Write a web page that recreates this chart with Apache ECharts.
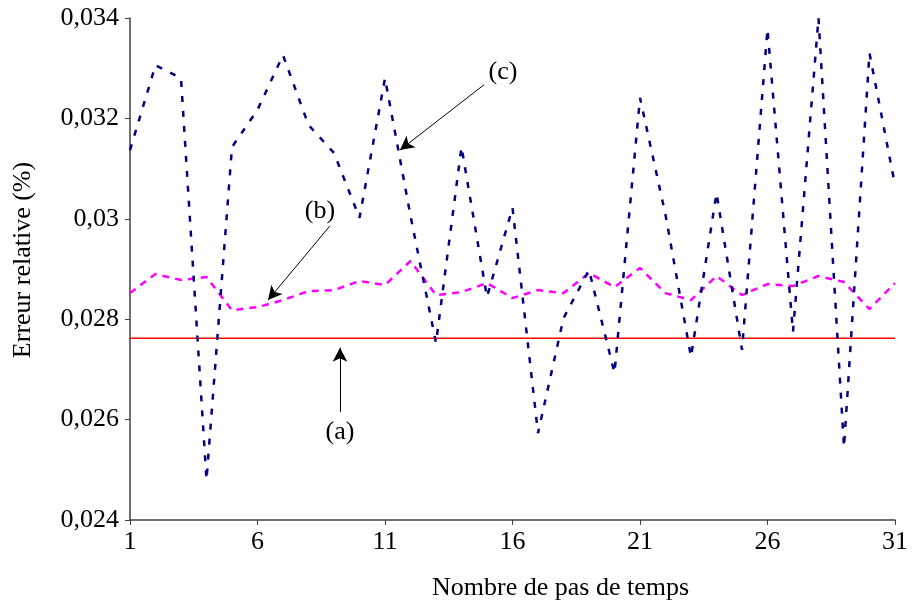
<!DOCTYPE html>
<html>
<head>
<meta charset="utf-8">
<script src="https://cdn.jsdelivr.net/npm/echarts@6/dist/echarts.min.js"></script>
<style>
  html, body { margin: 0; padding: 0; background: #fff; }
  #chart { width: 913px; height: 603px; }
</style>
</head>
<body>
<div id="chart"></div>
<script>
// pas de temps 1..31
const steps = ["1","2","3","4","5","6","7","8","9","10","11","12","13","14","15","16",
  "17","18","19","20","21","22","23","24","25","26","27","28","29","30","31"];

// (a) reference, constant
const serieA = [0.02762,0.02762,0.02762,0.02762,0.02762,0.02762,0.02762,0.02762,0.02762,0.02762,
  0.02762,0.02762,0.02762,0.02762,0.02762,0.02762,0.02762,0.02762,0.02762,0.02762,
  0.02762,0.02762,0.02762,0.02762,0.02762,0.02762,0.02762,0.02762,0.02762,0.02762,0.02762];

// (b) magenta
const serieB = [0.02852,0.0289,0.02878,0.02884,0.02818,0.02824,0.02838,0.02856,0.02858,0.02876,
  0.02868,0.02916,0.02848,0.02854,0.02872,0.02842,0.02858,0.02852,0.02892,0.02864,
  0.02902,0.02852,0.02838,0.02886,0.02848,0.0287,0.02866,0.02886,0.02874,0.0282,0.02872];

// (c) navy
const serieC = [0.03137,0.03306,0.0328,0.0248,0.03143,0.03217,0.03326,0.03187,0.03131,0.03002,
  0.0328,0.03006,0.02753,0.03143,0.02844,0.03022,0.02573,0.02802,0.02898,0.02693,
  0.03241,0.03008,0.02725,0.03051,0.02739,0.03378,0.02775,0.0340,0.02545,0.0333,0.03067];

// annotation arrows [step index, value] -> [step index, value], and labels
const arrows = [
  [[8.235, 0.02615], [8.235, 0.02743]],
  [[7.843, 0.02986], [5.412, 0.02838]],
  [[13.882, 0.03267], [10.588, 0.03137]]
];
const labels = [
  { name: "(a)", coord: [8.235, 0.02575] },
  { name: "(b)", coord: [7.451, 0.03016] },
  { name: "(c)", coord: [14.627, 0.03292] }
];

const font = "'Liberation Serif', 'DejaVu Serif', serif";
const fmt = v => parseFloat(v.toFixed(3)).toString().replace(".", ",");

let myChart = echarts.init(document.getElementById("chart"));
let option = {
  backgroundColor: "#fff",
  animation: false,
  grid: { left: 130, right: 18, top: 18, bottom: 83, outerBoundsMode: "none" },
  xAxis: [
    {
      type: "category",
      data: steps,
      boundaryGap: false,
      name: "Nombre de pas de temps",
      nameLocation: "middle",
      nameGap: 55,
      nameTextStyle: { fontFamily: font, fontSize: 26, color: "#000", padding: [0, 0, 0, 96] },
      axisLine: { lineStyle: { color: "#404040", width: 1.5 } },
      axisTick: { interval: 4, length: 5, lineStyle: { color: "#404040" } },
      axisLabel: { interval: 4, margin: 9, fontFamily: font, fontSize: 26, color: "#000" },
      splitLine: { show: false }
    },
    {
      // hidden continuous axis, only for placing the annotations
      type: "value",
      min: 0,
      max: 30,
      show: false
    }
  ],
  yAxis: {
    type: "value",
    min: 0.024,
    max: 0.034,
    interval: 0.002,
    name: "Erreur relative (%)",
    nameLocation: "middle",
    nameGap: 94,
    nameTextStyle: { fontFamily: font, fontSize: 26, color: "#000", padding: [0, 0, 0, 18] },
    axisLine: { show: true, lineStyle: { color: "#404040", width: 1.5 } },
    axisTick: { show: true, length: 5, lineStyle: { color: "#404040" } },
    axisLabel: { margin: 11, fontFamily: font, fontSize: 26, color: "#000", formatter: fmt },
    splitLine: { show: false }
  },
  series: [
    {
      name: "(a)",
      type: "line",
      data: serieA,
      showSymbol: false,
      lineStyle: { color: "#ff0000", width: 1.5 }
    },
    {
      name: "(b)",
      type: "line",
      data: serieB,
      showSymbol: false,
      lineStyle: { color: "#ff00ff", width: 2.5, type: [7, 6] }
    },
    {
      name: "(c)",
      type: "line",
      data: serieC,
      showSymbol: false,
      lineStyle: { color: "#000080", width: 2.5, type: [6, 9] }
    },
    {
      name: "annotations",
      type: "line",
      xAxisIndex: 1,
      data: [],
      markLine: {
        silent: true,
        symbol: ["none", "arrow"],
        symbolSize: [11, 14],
        label: { show: false },
        lineStyle: { color: "#000", width: 1, type: "solid" },
        data: arrows.map(a => [{ coord: a[0] }, { coord: a[1] }])
      },
      markPoint: {
        silent: true,
        symbol: "circle",
        symbolSize: 0,
        label: {
          show: true,
          position: "inside",
          formatter: p => p.name,
          fontFamily: font,
          fontSize: 26,
          color: "#000"
        },
        data: labels
      }
    }
  ]
};
myChart.setOption(option);
</script>
</body>
</html>
